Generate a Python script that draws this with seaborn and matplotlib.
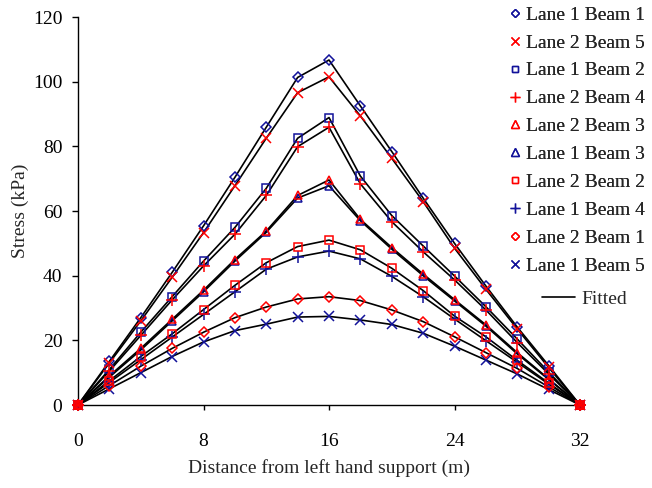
import numpy as np
import pandas as pd
import matplotlib
matplotlib.use("Agg")
import matplotlib.pyplot as plt
from matplotlib.lines import Line2D
import seaborn as sns

distance = [0, 2, 4, 6, 8, 10, 12, 14, 16, 18, 20, 22, 24, 26, 28, 30, 32]

series_names = ["Lane 1 Beam 1", "Lane 2 Beam 5", "Lane 1 Beam 2", "Lane 2 Beam 4",
                "Lane 2 Beam 3", "Lane 1 Beam 3", "Lane 2 Beam 2", "Lane 1 Beam 4",
                "Lane 2 Beam 1", "Lane 1 Beam 5"]

lane1_beam1 = [0, 13.5, 27, 41, 55.4, 70.4, 85.9, 101.3, 106.7, 92.5, 78.4, 64, 50, 36.8, 24.1, 12.2, 0]
lane2_beam5 = [0, 13, 26, 39.5, 53.3, 67.8, 82.5, 96.6, 101.5, 89.4, 76.3, 62.9, 48.5, 35.8, 23.5, 11.6, 0]
lane1_beam2 = [0, 11, 22.5, 33.5, 44.5, 54.9, 67, 82.5, 88.9, 70.8, 58.6, 49.2, 39.9, 30.4, 20.4, 10.2, 0]
lane2_beam4 = [0, 10.5, 21.5, 32.5, 43, 52.8, 64.8, 79.9, 85.9, 68.4, 56.7, 47.4, 38.7, 29.4, 19.3, 9.6, 0]
lane2_beam3 = [0, 9, 17.5, 26.5, 35.5, 45, 53.8, 64.8, 69.6, 57.4, 48.7, 40.5, 32.6, 24.8, 16.2, 8.1, 0]
lane1_beam3 = [0, 8.6, 17, 26, 35, 44.5, 53.4, 64, 67.8, 57, 48.2, 40, 32.2, 24.4, 15.8, 7.9, 0]
lane2_beam2 = [0, 7.5, 15, 22, 29.5, 37, 44, 49, 51, 48, 42.3, 35.4, 27.5, 21.1, 13.8, 6.8, 0]
lane1_beam4 = [0, 7, 14, 21, 28, 35, 42, 45.8, 47.6, 45.2, 39.8, 33.5, 26.6, 19.9, 13.2, 6.5, 0]
lane2_beam1 = [0, 6, 12, 17.5, 22.5, 27, 30.3, 32.8, 33.5, 32.3, 29.4, 25.8, 21.1, 16.2, 11.3, 5.6, 0]
lane1_beam5 = [0, 5, 10, 15, 19.5, 23, 25, 27.2, 27.4, 26.3, 24.9, 22.2, 18.2, 13.9, 9.6, 4.8, 0]

series_values = [lane1_beam1, lane2_beam5, lane1_beam2, lane2_beam4, lane2_beam3,
                 lane1_beam3, lane2_beam2, lane1_beam4, lane2_beam1, lane1_beam5]

x_ticks = [0, 8, 16, 24, 32]
y_ticks = [0, 20, 40, 60, 80, 100, 120]

BLUE = "#12129a"
RED = "#ff0000"
styles = {
    "Lane 1 Beam 1": ("D", BLUE, True, 5.0),
    "Lane 2 Beam 5": ("x", RED, False, 7.0),
    "Lane 1 Beam 2": ("s", BLUE, True, 5.5),
    "Lane 2 Beam 4": ("+", RED, False, 8.0),
    "Lane 2 Beam 3": ("^", RED, True, 6.0),
    "Lane 1 Beam 3": ("^", BLUE, True, 6.0),
    "Lane 2 Beam 2": ("s", RED, True, 5.5),
    "Lane 1 Beam 4": ("+", BLUE, False, 8.0),
    "Lane 2 Beam 1": ("D", RED, True, 5.0),
    "Lane 1 Beam 5": ("x", BLUE, False, 7.0),
}

rows = []
for name, vals in zip(series_names, series_values):
    for d, v in zip(distance, vals):
        rows.append({"series": name, "distance": d, "stress": v})
df = pd.DataFrame(rows)

sns.set_style("white")
plt.rcParams["font.family"] = ["Liberation Serif", "DejaVu Serif"]

fig = plt.figure(figsize=(6.52, 4.88), dpi=100)
ax = fig.add_axes([78 / 652, 1 - 405 / 488, (580 - 78) / 652, (405 - 17) / 488])

# fitted curves
for name in series_names:
    sub = df[df["series"] == name]
    sns.lineplot(data=sub, x="distance", y="stress", color="black", linewidth=1.2,
                 ax=ax, legend=False, zorder=2)

# measured points
draw_order = [n for n in series_names if styles[n][1] == BLUE] + \
             [n for n in series_names if styles[n][1] == RED]
for name in draw_order:
    m, c, filled, ms = styles[name]
    sub = df[df["series"] == name]
    kw = dict(marker=m, markersize=ms, markeredgecolor=c, markeredgewidth=1.1)
    if filled:
        kw["markerfacecolor"] = "none"
    else:
        kw["color"] = c
    sns.lineplot(data=sub, x="distance", y="stress", linestyle="none", ax=ax,
                 legend=False, zorder=3, clip_on=False, **kw)

ax.set_xlim(0, 32)
ax.set_ylim(0, 120)
ax.set_xticks(x_ticks)
ax.set_yticks(y_ticks)
ax.set_xticklabels([str(t) for t in x_ticks])
ax.set_yticklabels([str(t) for t in y_ticks])
for s in ["top", "right"]:
    ax.spines[s].set_visible(False)
for s in ["left", "bottom"]:
    ax.spines[s].set_color("black")
    ax.spines[s].set_linewidth(1.0)
ax.tick_params(axis="y", direction="out", length=4.3, width=1, pad=7, labelsize=14,
               colors="black", left=True)
ax.tick_params(axis="x", direction="out", length=3.5, width=1, pad=17, labelsize=14,
               colors="black", bottom=True)
ax.set_xlabel("Distance from left hand support (m)", fontsize=14, labelpad=6)
ax.set_ylabel("Stress (kPa)", fontsize=14, labelpad=3)

handles = []
for name in series_names:
    m, c, filled, ms = styles[name]
    h = Line2D([], [], linestyle="none", marker=m, markersize=ms * 0.85,
               markeredgecolor=c, markeredgewidth=1.0,
               markerfacecolor="none" if filled else c, color=c)
    handles.append(h)
leg1 = fig.legend(handles, series_names, loc="upper left",
                  bbox_to_anchor=(509 / 652, 1 - 6 / 488), frameon=False,
                  fontsize=14, handlelength=0.6, handletextpad=0.3,
                  labelspacing=0.53, borderpad=0, borderaxespad=0)
leg2 = fig.legend([Line2D([], [], color="black", linewidth=1.2)], ["Fitted"],
                  loc="upper left", bbox_to_anchor=(542 / 652, 1 - 290 / 488),
                  frameon=False, fontsize=14, handlelength=1.7, handletextpad=0.35,
                  borderpad=0, borderaxespad=0)
fig.add_artist(leg1)

fig.savefig("out.png", dpi=100)
